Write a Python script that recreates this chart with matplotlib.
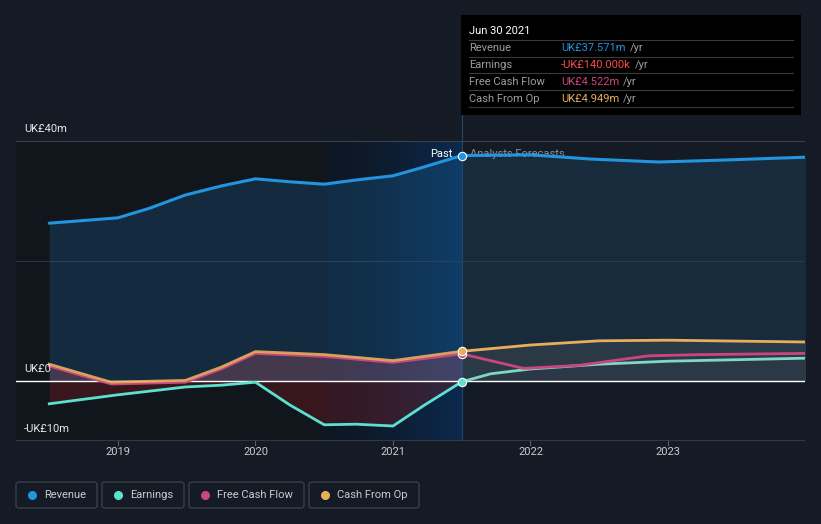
import numpy as np
import matplotlib.pyplot as plt
from matplotlib.patches import Rectangle, FancyBboxPatch
from matplotlib.lines import Line2D
from matplotlib.colors import LinearSegmentedColormap

plt.rcParams['font.family'] = ['Roboto', 'DejaVu Sans']

# data (UK£ m), x in decimal years
rev_x = [2018.5, 2019.0, 2019.23, 2019.49, 2019.75, 2020.0, 2020.25, 2020.5, 2020.73, 2021.0, 2021.2, 2021.5]
rev_y = [26.3, 27.2, 28.8, 31.0, 32.5, 33.7, 33.2, 32.8, 33.5, 34.2, 35.5, 37.571]
rev_fx = [2021.5, 2022.0, 2022.43, 2022.93, 2023.37, 2024.0]
rev_fy = [37.571, 37.7, 37.0, 36.5, 36.8, 37.3]

earn_x = [2018.5, 2019.0, 2019.49, 2019.75, 2020.0, 2020.25, 2020.5, 2020.73, 2021.0, 2021.23, 2021.5]
earn_y = [-3.8, -2.3, -1.0, -0.7, -0.2, -4.0, -7.3, -7.2, -7.5, -4.0, -0.14]
earn_fx = [2021.5, 2021.71, 2022.0, 2022.5, 2023.0, 2024.0]
earn_fy = [-0.14, 1.2, 2.0, 2.8, 3.3, 3.8]

fcf_x = [2018.5, 2018.95, 2019.49, 2019.75, 2020.0, 2020.5, 2021.0, 2021.5]
fcf_y = [2.5, -0.5, -0.2, 2.0, 4.6, 4.1, 3.1, 4.522]
fcf_fx = [2021.5, 2021.95, 2022.35, 2022.86, 2023.25, 2024.0]
fcf_fy = [4.522, 2.1, 2.6, 4.2, 4.4, 4.6]

cfo_x = [2018.5, 2018.95, 2019.49, 2019.75, 2020.0, 2020.5, 2021.0, 2021.5]
cfo_y = [2.8, -0.2, 0.1, 2.3, 4.9, 4.4, 3.4, 4.949]
cfo_fx = [2021.5, 2022.0, 2022.5, 2023.0, 2024.0]
cfo_fy = [4.949, 6.0, 6.7, 6.8, 6.5]

years = [2019, 2020, 2021, 2022, 2023]

W, H = 821, 524
BG = '#151b24'
C_REV = '#2394df'
C_EARN = '#5ce0d0'
C_FCF = '#c9467f'
C_CFO = '#e8ae5c'

def fx(px):
    return px / W

def fy(py):
    return 1 - py / H

fig = plt.figure(figsize=(W / 100, H / 100), dpi=100)
fig.patch.set_facecolor(BG)

# axes spans x 16..805 px, y 15..441 px
x_per_px = 1 / 137.5
x0 = 2019 - (118 - 16) * x_per_px
x1 = 2019 + (805 - 118) * x_per_px
ytop = 40 + (141 - 15) / 6
ax = fig.add_axes([fx(16), fy(441), fx(805) - fx(16), fy(15) - fy(441)])
ax.set_facecolor(BG)
ax.set_xlim(x0, x1)
ax.set_ylim(-10, ytop)
for s in ax.spines.values():
    s.set_visible(False)
ax.set_xticks([])
ax.set_yticks([])

# darker past band and highlighted last year (only inside the -10..40 range)
ax.fill_between([x0, 2020.5], -10, 40, color='#11151c', zorder=0, lw=0)
grad = np.linspace(0, 1, 256).reshape(1, -1) ** 1.5
ax.imshow(grad, extent=[2020.5, 2021.5, -10, 40], aspect='auto',
          cmap=LinearSegmentedColormap.from_list('g', ['#0e1724', '#0b2a4e']),
          zorder=0.5, interpolation='bicubic')
ax.set_xlim(x0, x1)
ax.set_ylim(-10, ytop)
ax.axvline(2021.5, color='#25456b', lw=0.8, zorder=1)

# gridlines
ax.axhline(40, color='#3a404a', lw=0.8, zorder=1)
ax.axhline(20, color='#2a3340', lw=0.8, zorder=1)
ax.axhline(-10, color='#3a404a', lw=1.2, zorder=1)

# fills
ax.fill_between(rev_x, rev_y, 0, color=C_REV, alpha=0.18, lw=0, zorder=2)
ax.fill_between(rev_fx, rev_fy, 0, color='#1f4a6e', alpha=0.35, lw=0, zorder=2)
ax.fill_between(cfo_x, cfo_y, 0, color='#c05a70', alpha=0.28, lw=0, zorder=2)
ax.fill_between(earn_x, earn_y, 0, color='#c02020', alpha=0.22, lw=0, zorder=2)
ax.fill_between(cfo_fx, cfo_fy, 0, color='#50555a', alpha=0.35, lw=0, zorder=2)

ax.axhline(0, color='#ffffff', lw=1.0, zorder=3)

# lines
ax.plot(rev_x, rev_y, color=C_REV, lw=2.2, zorder=4, solid_capstyle='round')
ax.plot(rev_fx, rev_fy, color=C_REV, lw=2.2, zorder=4)
ax.plot(earn_x, earn_y, color=C_EARN, lw=2.0, zorder=4)
ax.plot(earn_fx, earn_fy, color='#7fd8c4', lw=2.0, zorder=4)
ax.plot(fcf_x, fcf_y, color=C_FCF, lw=2.0, zorder=4)
ax.plot(fcf_fx, fcf_fy, color=C_FCF, lw=2.0, zorder=4)
ax.plot(cfo_x, cfo_y, color=C_CFO, lw=2.0, zorder=5, alpha=0.9)
ax.plot(cfo_fx, cfo_fy, color=C_CFO, lw=2.0, zorder=5)

for val, col in [(rev_y[-1], C_REV), (earn_y[-1], C_EARN), (fcf_y[-1], C_FCF), (cfo_y[-1], C_CFO)]:
    ax.plot([2021.5], [val], 'o', ms=6, color=col, mec='white', mew=0.8, zorder=6)

ax.text(2021.5 - 0.07, rev_y[-1] + 0.2, 'Past', color='white', fontsize=8,
        ha='right', va='center', zorder=7)
ax.text(2021.5 + 0.06, rev_y[-1] + 0.2, 'Analysts Forecasts', color='#8a9099',
        fontsize=8, ha='left', va='center', zorder=3)

# y labels
for lab, py in [('UK£40m', 129), ('UK£0', 369), ('-UK£10m', 429)]:
    fig.text(fx(24), fy(py), lab, color='#e8eaec', fontsize=8, va='center', ha='left')

# x ticks
for yr in years:
    ax.plot([yr, yr], [-10, -10.6], color='#55606c', lw=0.8, clip_on=False, zorder=1)
    fig.text(fx(118 + (yr - 2019) * 137.5), fy(452), str(yr), color='#c8ccd0',
             fontsize=8, ha='center', va='center')

# tooltip
fig.patches.append(Rectangle((fx(461), fy(115)), fx(801) - fx(461), fy(15) - fy(115),
                             transform=fig.transFigure, facecolor='#000000', edgecolor='none', zorder=10))
fig.text(fx(469), fy(31), 'Jun 30 2021', color='white', fontsize=8, va='center', zorder=11)
for py in [40, 57, 73, 90, 107]:
    fig.lines.append(Line2D([fx(469), fx(793)], [fy(py), fy(py)], transform=fig.transFigure,
                            color='#3a3a3a', lw=0.8, zorder=11))
rows = [('Revenue', 'UK£37.571m', C_REV),
        ('Earnings', '-UK£140.000k', '#ff4a4a'),
        ('Free Cash Flow', 'UK£4.522m', C_FCF),
        ('Cash From Op', 'UK£4.949m', C_CFO)]
renderer = fig.canvas.get_renderer()
for i, (lab, val, col) in enumerate(rows):
    py = 48 + i * 17
    fig.text(fx(469), fy(py), lab, color='#9a9ea4', fontsize=8, va='center', zorder=11)
    t = fig.text(fx(561), fy(py), val, color=col, fontsize=8, va='center', zorder=11)
    bb = t.get_window_extent(renderer)
    fig.text(bb.x1 / W + fx(4), fy(py), '/yr', color='#9a9ea4', fontsize=8, va='center', zorder=11)

# legend
legend = [('Revenue', C_REV, 16, 97), ('Earnings', C_EARN, 102, 184),
          ('Free Cash Flow', C_FCF, 189, 304), ('Cash From Op', C_CFO, 309, 419)]
for lab, col, l, r in legend:
    fig.patches.append(FancyBboxPatch((fx(l), fy(508)), fx(r) - fx(l), fy(482) - fy(508),
                                      boxstyle='round,pad=0,rounding_size=0.004',
                                      transform=fig.transFigure, facecolor='none',
                                      edgecolor='#3c434d', lw=0.9))
    fig.lines.append(Line2D([fx(l + 16)], [fy(494.5)], transform=fig.transFigure, marker='o',
                            ms=5.5, color=col, lw=0))
    fig.text(fx(l + 28), fy(494.5), lab, color='#c8ccd0', fontsize=8, va='center')

fig.savefig('out.png', dpi=100, facecolor=BG)
